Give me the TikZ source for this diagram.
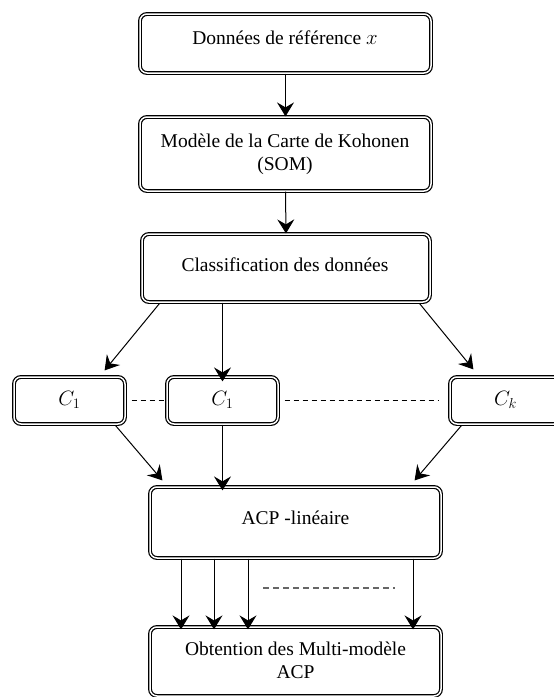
\documentclass[tikz,border=0pt]{standalone}
\usepackage{fontspec}
\setmainfont{Liberation Serif}
\usetikzlibrary{arrows.meta,calc}
\begin{document}
\begin{tikzpicture}[x=1pt,y=-1pt,
  box/.style={draw=black, line width=1.2pt, double=white, double distance=1.5pt,
    rounded corners=7pt, inner sep=0pt, fill=white},
  txt/.style={inner sep=0pt, align=center, font=\fontsize{19.5}{23}\selectfont},
  arr/.style={line width=1pt, -{Stealth[length=14pt,width=17pt,inset=5pt]}},
  dsh/.style={line width=0.8pt, dash pattern=on 5pt off 4pt},
  dshg/.style={line width=1.5pt, black!60, dash pattern=on 6pt off 4pt}]
\useasboundingbox (0,0) rectangle (554,697);
\clip (0,0) rectangle (554,697);
% boxes
\node[box, minimum width=291, minimum height=59] (b1) at (285.5,43.5) {};
\node[box, minimum width=291, minimum height=74] (b2) at (285.5,154) {};
\node[box, minimum width=288, minimum height=68] (b3) at (286,268) {};
\node[box, minimum width=111, minimum height=47] (c1) at (69.5,400.5) {};
\node[box, minimum width=111, minimum height=47] (c2) at (222.5,400.5) {};
\node[box, minimum width=111, minimum height=47] (ck) at (505.5,400.5) {};
\node[box, minimum width=291, minimum height=71] (acp) at (295.5,522.5) {};
\node[box, minimum width=291, minimum height=69] (last) at (295.5,661.5) {};
% texts
\node[txt] (t1) at (285,38) {Données de référence $x$};
\node[txt] (t2) at (285,154) {Modèle de la Carte de Kohonen\\(SOM)};
\node[txt] (t3) at (285,265) {Classification des données};
\node[txt] (tc1) at (69.5,400) {$C_1$};
\node[txt] (tc2) at (222.5,400) {$C_1$};
\node[txt] (tck) at (505.5,400) {$C_k$};
\node[txt] (t4) at (295.5,518) {ACP -linéaire};
\node[txt] (t5) at (295.5,660) {Obtention des Multi-modèle\\ACP};
% arrows
\draw[arr] (b1.south) -- (b2.north);
\draw[arr] (b2.south) -- (b3.north);
\draw[arr] ($(b3.south west)+(18,1)$) -- ($(c1.north east)+(-21,-6)$);
\draw[arr] (b3.south -| c2.north) -- ([yshift=-5pt]c2.north);
\draw[arr] ($(b3.south east)+(-11,1)$) -- ($(ck.north west)+(24,-7)$);
\draw[arr] ($(c1.south east)+(-10,1)$) -- ($(acp.north west)+(13,-6)$);
\draw[arr] (c2.south) -- ([yshift=-4pt]c2.south |- acp.north);
\draw[arr] ($(ck.south west)+(12,1)$) -- ($(acp.north east)+(-27,-6)$);
\draw[arr] ([xshift=-114.5pt]acp.south) -- ([xshift=-114.5pt,yshift=-3pt]last.north);
\draw[arr] ([xshift=-81.5pt]acp.south) -- ([xshift=-81.5pt,yshift=-3pt]last.north);
\draw[arr] ([xshift=-47.5pt]acp.south) -- ([xshift=-47.5pt,yshift=-3pt]last.north);
\draw[arr] ([xshift=117.5pt]acp.south) -- ([xshift=117.5pt,yshift=-3pt]last.north);
% dashed
\draw[dsh] ([xshift=6pt]c1.east) -- ([xshift=2pt]c2.west);
\draw[dsh] ([xshift=6pt]c2.east) -- ([xshift=-10pt]ck.west);
\coordinate (d1) at (263,588);
\coordinate (d2) at (395,588);
\draw[dshg] (d1) -- (d2);
\end{tikzpicture}
\end{document}
